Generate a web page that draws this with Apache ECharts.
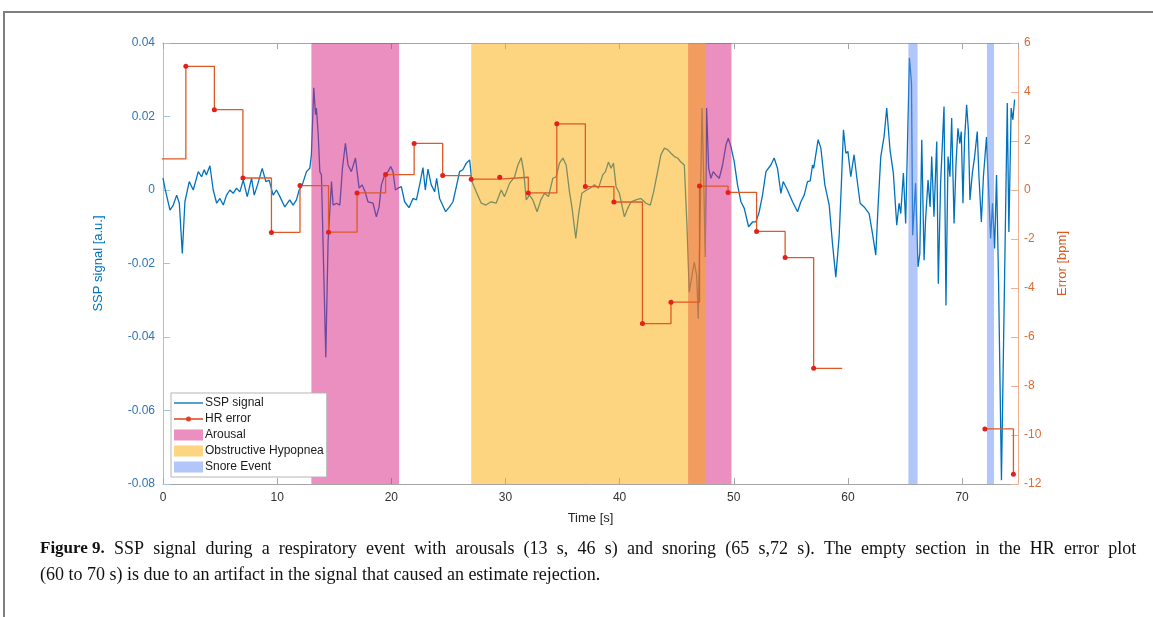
<!DOCTYPE html>
<html>
<head>
<meta charset="utf-8">
<script src="https://cdn.jsdelivr.net/npm/echarts@6/dist/echarts.min.js"></script>
<style>
  html, body { margin: 0; padding: 0; background: #fff; }
  #chart { width: 1153px; height: 617px; }
</style>
</head>
<body>
<div id="chart"></div>
<script>
// SSP signal (time in s, amplitude in a.u.)
const sigT = [0, 0.17, 0.61, 0.9, 1.2, 1.43, 1.69, 1.92, 2.3, 2.65, 3.09, 3.38, 3.61, 3.8, 4.11, 4.4, 4.7, 4.99,
  5.28, 5.57, 5.86, 6.15, 6.44, 6.73, 7.03, 7.38, 7.76, 7.99, 8.28, 8.69, 9.01, 9.3, 9.65, 9.94, 10.24, 10.67,
  11.1, 11.4, 11.69, 11.93, 12.2, 12.57, 12.86, 13.0, 13.21, 13.36, 13.44, 13.6, 13.74, 13.88, 14.26, 14.46,
  14.76, 14.9, 15.2, 15.49, 15.72, 15.98, 16.21, 16.5, 16.86, 17.18, 17.44, 17.7, 17.96, 18.4, 18.69, 18.93,
  19.13, 19.42, 19.71, 19.95, 20.15, 20.36, 20.59, 20.88, 21.17, 21.55, 21.9, 22.2, 22.48, 22.77, 22.98, 23.21,
  23.5, 23.8, 23.97, 24.23, 24.76, 25.1, 25.4, 25.7, 25.98, 26.27, 26.57, 26.86, 27.06, 27.44, 27.88, 28.3,
  28.74, 29.18, 29.63, 29.92, 30.36, 30.8, 31.09, 31.38, 31.6, 31.82, 32.1, 32.4, 32.77, 33.1, 33.42, 33.77,
  34.15, 34.44, 34.73, 35.03, 35.32, 35.61, 35.84, 36.16, 36.4, 36.69, 37.1, 37.4, 37.8, 38.15, 38.52, 38.76,
  39.02, 39.25, 39.46, 39.69, 39.98, 40.42, 40.71, 41.0, 41.43, 41.87, 42.31, 42.69, 42.98, 43.33, 43.62, 43.92,
  44.2, 44.5, 44.8, 45.08, 45.37, 45.67, 45.9, 46.1, 46.34, 46.54, 46.75, 46.89, 47.07, 47.22, 47.36, 47.5,
  47.62, 47.8, 48.0, 48.2, 48.43, 48.73, 49.02, 49.32, 49.52, 49.75, 50.04, 50.33, 50.63, 50.92, 51.3, 51.65,
  51.94, 52.23, 52.52, 52.82, 53.25, 53.54, 53.83, 54.13, 54.33, 54.7, 55.15, 55.59, 55.88, 56.17, 56.46, 56.7,
  56.9, 57.0, 57.39, 57.63, 57.98, 58.36, 58.65, 58.94, 59.23, 59.43, 59.61, 59.82, 60.0, 60.25, 60.54, 60.77,
  61.07, 61.42, 61.86, 62.15, 62.44, 62.64, 62.88, 63.17, 63.4, 63.69, 63.98, 64.28, 64.48, 64.63, 64.86, 65.06,
  65.39, 65.57, 65.67, 65.93, 66.14, 66.3, 66.47, 66.67, 66.8, 67.02, 67.2, 67.34, 67.54, 67.78, 67.92, 68.12,
  68.42, 68.59, 68.77, 68.94, 69.09, 69.3, 69.47, 69.64, 69.8, 69.93, 70.08, 70.22, 70.4, 70.55, 70.69, 70.9,
  71.1, 71.33, 71.48, 71.69, 71.87, 72.14, 72.35, 72.5, 72.67, 72.85, 73.02, 73.2, 73.45, 73.6, 73.96, 74.1,
  74.3, 74.45, 74.6];
const sigV = [0.0032, 0.0005, -0.0055, -0.0041, -0.0014, -0.0036, -0.0173, -0.0032, 0.0023, 0.0, 0.005, 0.0036,
  0.0055, 0.0041, 0.0066, 0.0, -0.0036, -0.0023, -0.0041, -0.0014, 0.0, -0.0009, 0.0005, -0.0005, 0.0027,
  -0.0018, 0.0032, -0.0014, 0.0014, 0.0059, 0.0023, 0.0027, -0.0014, 0.0, -0.0018, -0.0046, -0.0027, -0.0041,
  -0.0027, 0.0, 0.0014, 0.005, 0.0059, 0.0096, 0.0278, 0.0205, 0.0223, 0.015, 0.005, 0.0041, -0.0455, -0.0141,
  0.0023, -0.0041, -0.0036, -0.0041, 0.0059, 0.0127, 0.0068, 0.005, 0.0087, 0.0005, 0.0014, -0.0005, -0.0032,
  -0.0036, -0.0073, -0.0046, 0.0014, 0.0041, 0.005, 0.0064, 0.005, 0.0, 0.0005, 0.0009, -0.0032, -0.0048,
  -0.0023, -0.0027, 0.0014, 0.0061, 0.0, 0.0057, 0.0014, -0.0005, 0.0032, -0.0023, -0.0059, -0.0046, -0.0032,
  0.0009, 0.005, 0.0055, 0.0073, 0.0082, 0.0023, -0.0005, -0.0036, -0.0041, -0.0032, -0.0036, 0.0, -0.0018,
  0.0018, 0.0036, 0.0068, 0.0088, 0.005, -0.0027, -0.0014, -0.0027, -0.0059, -0.0027, -0.0009, -0.0018, 0.0032,
  0.0036, 0.0073, 0.0087, 0.0068, -0.0005, -0.005, -0.0132, -0.0068, -0.0009, 0.0, 0.0005, 0.0014, 0.0005,
  0.0041, 0.005, 0.0076, 0.0059, 0.0073, 0.0009, -0.0009, -0.0073, -0.005, -0.0032, -0.0027, -0.0023, -0.0036,
  -0.0041, -0.0005, 0.005, 0.0096, 0.0114, 0.011, 0.01, 0.0091, 0.0087, 0.0076, 0.0068, -0.0096, -0.0278,
  -0.0232, -0.0196, -0.0232, -0.035, -0.005, 0.0223, 0.0041, -0.0182, 0.0223, 0.0059, 0.0032, 0.005, 0.0041,
  0.0032, 0.0068, 0.0123, 0.0141, 0.0118, 0.0077, 0.0014, -0.0032, -0.005, -0.01, -0.0087, -0.0087, -0.0059,
  -0.0014, 0.005, 0.0068, 0.0087, 0.0059, -0.0009, 0.0023, 0.0, -0.0032, -0.0059, -0.0032, -0.0014, 0.0023,
  0.0025, 0.0068, 0.0059, 0.0137, 0.0114, 0.0014, -0.0041, -0.0146, -0.0237, -0.0127, 0.0018, 0.0164, 0.01,
  0.0105, 0.0036, 0.0096, 0.0036, -0.0036, -0.0046, -0.0064, -0.0118, -0.0177, -0.0046, 0.0091, 0.0146, 0.0223,
  0.0109, 0.0046, -0.0096, -0.0036, -0.0064, 0.0046, -0.0091, 0.036, 0.0291, -0.0123, 0.0018, -0.0209, -0.0173,
  0.0137, -0.0191, -0.0082, 0.0027, -0.0046, 0.0091, -0.0073, 0.0132, -0.0255, 0.0018, 0.0227, -0.0314, 0.0091,
  0.0036, 0.0196, -0.0091, 0.0073, 0.0168, 0.0127, 0.0159, -0.0036, 0.0137, 0.0232, 0.0164, -0.0027, 0.0046,
  0.0091, 0.0159, 0.0036, -0.0087, 0.0036, 0.0144, -0.0018, -0.0132, -0.0036, -0.0159, 0.0041, -0.0255, -0.079,
  -0.079, 0.0237, -0.0114, 0.0223, 0.0191, 0.0246];

// HR error estimates every 2.5 s (bpm); null = rejected estimate
const hrTimes = [-0.5, 2, 4.5, 7, 9.5, 12, 14.5, 17, 19.5, 22, 24.5, 27, 29.5, 32, 34.5, 37, 39.5, 42, 44.5,
  47, 49.5, 52, 54.5, 57, 59.5, 62, 64.5, 67, 69.5, 72, 74.5];
const hrErr = [1.27, 5.05, 3.28, 0.49, -1.73, 0.18, -1.72, -0.12, 0.63, 1.9, 0.59, 0.44, 0.52, -0.12, 2.7, 0.14,
  -0.49, -5.45, -4.58, 0.16, -0.1, -1.69, -2.76, -7.28, null, null, null, null, null, -9.75, -11.6];

// event intervals [start, end] in s
const arousalSpans = [[13.0, 20.68], [46.0, 49.8]];
const hypopneaSpans = [[27.0, 47.57]];
const snoreSpans = [[65.3, 66.1], [72.18, 72.8]];

const leftTicks = { min: -0.08, max: 0.04, interval: 0.02 };
const rightTicks = { min: -12, max: 6, interval: 2 };
const timeTicks = { min: 0, max: 74.9, interval: 10 };

const captionLine1 = 'SSP signal during a respiratory event with arousals (13 s, 46 s) and snoring (65 s,72 s). The empty section in the HR error plot';
const captionLine2 = '(60 to 70 s) is due to an artifact in the signal that caused an estimate rejection.';

const BLUE = '#0072BD';
const ORANGE = '#DE5A24';
const DOT = '#E3201B';
const FONT = '"Liberation Sans", Arial, sans-serif';
const SERIF = '"Liberation Serif", "Times New Roman", serif';

const chart = echarts.init(document.getElementById('chart'));

// stairs like MATLAB: horizontal run to the next time even if that estimate is missing
const hrData = [];
hrTimes.forEach((t, i) => {
  const v = hrErr[i];
  if (v !== null) {
    hrData.push([t, v]);
  } else if (i > 0 && hrErr[i - 1] !== null) {
    hrData.push({ value: [t, hrErr[i - 1]], symbol: 'none' });
    hrData.push([t, null]);
  }
});

const toAreas = spans => spans.map(s => [{ xAxis: s[0] }, { xAxis: s[1] }]);

const areaSeries = (name, spans, color, z) => ({
  name,
  type: 'line',
  data: [],
  z,
  color,
  itemStyle: { color },
  lineStyle: { color },
  markArea: {
    silent: true,
    z,
    itemStyle: { color, borderWidth: 0 },
    data: toAreas(spans)
  }
});

// first caption line is justified in the journal, so widen the word gaps
const justified = '{b|Figure 9.}{s| }' + captionLine1.split(' ').join('{s| }');

const option = {
  animation: false,
  textStyle: { fontFamily: FONT },
  grid: { left: 163, right: 135, top: 43, bottom: 133 },
  legend: {
    orient: 'vertical',
    left: 171,
    top: 393,
    z: 10,
    padding: [4, 3, 4, 3],
    itemGap: 4,
    itemWidth: 29,
    itemHeight: 11,
    backgroundColor: '#fff',
    borderColor: '#b5b5b5',
    borderWidth: 1,
    textStyle: { fontSize: 12, color: '#1a1a1a', fontFamily: FONT, padding: [0, 0, 0, -3] },
    data: [
      { name: 'SSP signal', icon: 'path://M0,0H30V1.4H0Z' },
      {
        name: 'HR error',
        icon: 'path://M0,5.35H30V6.65H0Z M17.6,6A2.6,2.6 0 1 1 12.4,6A2.6,2.6 0 1 1 17.6,6Z',
        itemStyle: { color: '#E2401F' }
      },
      { name: 'Arousal', icon: 'rect' },
      { name: 'Obstructive Hypopnea', icon: 'rect' },
      { name: 'Snore Event', icon: 'rect' }
    ]
  },
  xAxis: [
    {
      type: 'value',
      min: timeTicks.min,
      max: timeTicks.max,
      interval: timeTicks.interval,
      name: 'Time [s]',
      nameLocation: 'middle',
      nameGap: 28,
      nameTextStyle: { fontSize: 13, color: '#262626' },
      axisLine: { onZero: false, lineStyle: { color: '#a6a6a6' } },
      axisTick: { inside: true, length: 6, lineStyle: { color: '#a6a6a6' } },
      axisLabel: { fontSize: 12, color: '#333', margin: 8, showMaxLabel: false },
      splitLine: { show: false }
    },
    {
      type: 'value',
      position: 'top',
      min: timeTicks.min,
      max: timeTicks.max,
      interval: timeTicks.interval,
      axisLine: { onZero: false, lineStyle: { color: '#a6a6a6' } },
      axisTick: { inside: true, length: 6, lineStyle: { color: '#a6a6a6' } },
      axisLabel: { show: false },
      splitLine: { show: false }
    }
  ],
  yAxis: [
    {
      type: 'value',
      position: 'left',
      min: leftTicks.min,
      max: leftTicks.max,
      interval: leftTicks.interval,
      name: 'SSP signal [a.u.]',
      nameLocation: 'middle',
      nameRotate: 90,
      nameGap: 58,
      nameTextStyle: { fontSize: 13, color: BLUE },
      axisLine: { show: true, onZero: false, lineStyle: { color: '#9cc4e6' } },
      axisTick: { show: true, inside: true, length: 7, lineStyle: { color: '#9cc4e6' } },
      axisLabel: { fontSize: 12, color: '#2f74b5', margin: 8, formatter: v => (Math.abs(v) < 1e-9 ? '0' : String(+v.toFixed(2))) },
      splitLine: { show: false }
    },
    {
      type: 'value',
      position: 'right',
      min: rightTicks.min,
      max: rightTicks.max,
      interval: rightTicks.interval,
      name: 'Error [bpm]',
      nameLocation: 'middle',
      nameRotate: 90,
      nameGap: 38,
      nameTextStyle: { fontSize: 13, color: ORANGE },
      axisLine: { show: true, onZero: false, lineStyle: { color: '#f0b08f' } },
      axisTick: { show: true, inside: true, length: 7, lineStyle: { color: '#f0b08f' } },
      axisLabel: { fontSize: 12, color: '#dd6a33', margin: 6 },
      splitLine: { show: false }
    }
  ],
  series: [
    {
      name: 'SSP signal',
      type: 'line',
      data: sigT.map((t, i) => [t, sigV[i]]),
      symbol: 'none',
      z: 2,
      color: BLUE,
      lineStyle: { color: BLUE, width: 1.3 }
    },
    areaSeries('Arousal', arousalSpans, 'rgba(215,31,129,0.5)', 3),
    areaSeries('Obstructive Hypopnea', hypopneaSpans, 'rgba(251,169,0,0.5)', 4),
    areaSeries('Snore Event', snoreSpans, 'rgba(103,141,243,0.5)', 3),
    {
      name: 'HR error',
      type: 'line',
      yAxisIndex: 1,
      step: 'end',
      data: hrData,
      symbol: 'circle',
      symbolSize: 5,
      showAllSymbol: true,
      z: 6,
      itemStyle: { color: DOT },
      lineStyle: { color: ORANGE, width: 1.3 }
    }
  ],
  graphic: [
    {
      type: 'rect',
      silent: true,
      shape: { x: 4, y: 12, width: 1170, height: 640 },
      style: { fill: null, stroke: '#7f7f7f', lineWidth: 2 }
    },
    {
      type: 'text',
      left: 40,
      top: 540,
      style: {
        text: justified,
        font: '18px ' + SERIF,
        fill: '#111',
        rich: {
          b: { font: 'bold 17px ' + SERIF, fill: '#111' },
          s: { font: '18px ' + SERIF, width: 9.2 }
        }
      }
    },
    {
      type: 'text',
      left: 40,
      top: 566,
      style: {
        text: captionLine2,
        font: '18px ' + SERIF,
        fill: '#111'
      }
    }
  ]
};

chart.setOption(option);
window.addEventListener('resize', () => chart.resize());
</script>
</body>
</html>
